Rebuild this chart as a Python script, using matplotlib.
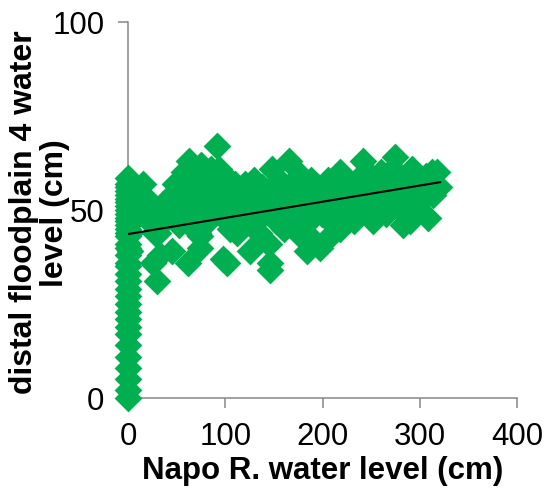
import matplotlib
matplotlib.use("Agg")
import matplotlib.pyplot as plt
import numpy as np

plt.rcParams['font.family'] = ['Liberation Sans', 'DejaVu Sans']

# --- data (Napo R. level, floodplain level) ---
col_x = [0]*36 + [2, 3, 4, 3, 2]
col_y = [0, 2, 5, 8, 11, 14, 17, 19, 21, 23, 25, 27, 29, 31, 33, 35, 36, 38,
         40, 41, 43, 44, 45, 46, 47, 48, 49, 50, 51, 52, 53, 54, 55, 56, 57, 58.5,
         44, 48, 52, 55, 39]

clu_x = [12, 15, 18, 22, 25, 26, 28, 30, 31, 33, 35, 38, 40, 20,
         45, 45, 48, 50, 52, 55, 58, 60, 62, 63, 65, 66, 68, 70, 72, 74, 74, 75, 78, 80, 80,
         82, 85, 88, 90, 92, 94, 95, 98, 100, 102, 104, 105, 108, 110, 112, 115, 118, 120,
         122, 125, 126, 128, 130, 133, 135, 138, 140, 142, 145, 146, 146, 148, 150, 152, 155, 158, 160,
         162, 164, 166, 168, 170, 172, 175, 178, 180, 183, 184, 186, 188, 190, 192, 195, 197, 199,
         202, 204, 206, 208, 210, 212, 215, 218, 218, 220, 222, 225, 228, 230, 232, 235, 238, 240,
         242, 244, 246, 248, 250, 252, 255, 258, 260, 262, 265, 268, 270, 272, 275, 277, 280,
         283, 285, 287, 290, 292, 295, 298, 300, 303, 306, 308, 310, 313, 314, 316, 318, 320]
clu_y = [52, 57, 49, 47, 51, 36, 44, 31, 44, 38, 50, 52, 48, 53,
         39, 54, 57, 52, 46, 55, 60, 50, 36, 63, 57, 47, 53, 60, 44, 40, 43, 62, 55, 50, 58,
         47, 61, 53, 56, 67, 61, 49, 37, 54, 36, 58, 45, 51, 57, 44, 52, 48, 57,
         54, 39, 50, 46, 58, 53, 44, 56, 49, 52, 41, 36, 34, 61, 55, 47, 58, 50, 45,
         54, 46, 63, 57, 50, 53, 44, 59, 51, 55, 39, 47, 58, 42, 52, 56, 40, 49,
         54, 42, 58, 47, 52, 56, 50, 60, 45, 54, 48, 57, 51, 55, 47, 58, 53, 50,
         63, 56, 49, 53, 59, 47, 55, 51, 60, 54, 49, 57, 52, 61, 64, 55, 50,
         46, 58, 53, 47, 61, 55, 50, 57, 53, 59, 48, 55, 60, 54, 57, 60, 56]

trend_intercept = 43.6
trend_slope = 0.043
trend_x = [0, 321]

x_ticks = [0, 100, 200, 300, 400]
y_ticks = [0, 50, 100]
ylabel_lines = ['distal floodplain 4 water', 'level (cm)']
xlabel = 'Napo R. water level (cm)'

GREEN = '#00B050'
GRAY = '#868686'

fig = plt.figure(figsize=(5.45, 4.95), dpi=100)
ax = fig.add_axes([128/545, 1-398/495, 389/545, 376/495])

xs = np.array(col_x + clu_x, dtype=float)
ys = np.array(col_y + clu_y, dtype=float)
ax.scatter(xs, ys, marker='D', s=200, color=GREEN, linewidths=0,
           zorder=3, clip_on=False)
tx = np.array(trend_x, dtype=float)
ax.plot(tx, trend_intercept + trend_slope*tx, color='black', lw=1.5, zorder=4)

ax.set_xlim(0, 400)
ax.set_ylim(0, 100)
ax.set_xticks(x_ticks)
ax.set_yticks(y_ticks)
for s in ['top', 'right']:
    ax.spines[s].set_visible(False)
for s in ['left', 'bottom']:
    ax.spines[s].set_color(GRAY)
    ax.spines[s].set_linewidth(1.1)
ax.tick_params(axis='both', direction='out', length=7, width=1.1, color=GRAY,
               labelsize=22.5, pad=10)

ax.set_xlabel(xlabel, fontsize=22.5, fontweight='bold', labelpad=3)
fig.text(24/545, 1-212/495, ylabel_lines[0], rotation=90,
         ha='center', va='center', fontsize=23, fontweight='bold')
fig.text(55/545, 1-213/495, ylabel_lines[1], rotation=90,
         ha='center', va='center', fontsize=23, fontweight='bold')

fig.savefig('out.png', dpi=100)
